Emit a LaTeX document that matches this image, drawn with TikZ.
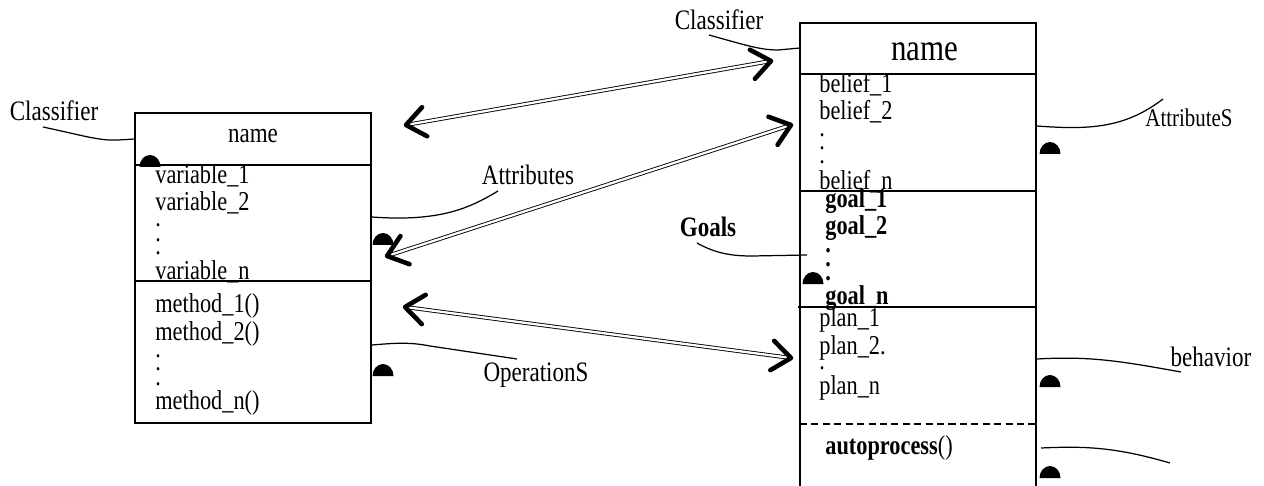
\documentclass[tikz,border=0pt]{standalone}
\usepackage{fontspec}
\setmainfont{Liberation Serif}[FakeStretch=0.82]
\usetikzlibrary{calc}
\tikzstyle{item}=[anchor=base west,inner sep=0pt,font=\fontsize{15.5}{18}\selectfont]
\tikzstyle{goal}=[item,font=\fontsize{15.5}{18}\selectfont\bfseries]
\tikzstyle{dot}=[item,text height=2pt,text depth=0pt]
\tikzstyle{tag}=[inner sep=0pt,font=\fontsize{16}{18}\selectfont]
\tikzstyle{lead}=[draw,line width=0.7pt]
\tikzstyle{shaft}=[draw,double,double distance=1.3pt,line width=0.5pt]
\tikzstyle{barb}=[draw,line width=2.6pt,line cap=round,line join=round]
\tikzstyle{frame}=[draw,line width=0.8pt]

\begin{document}
\begin{tikzpicture}[x=0.02cm, y=-0.02cm]
				\useasboundingbox (0,0) rectangle (1264,486);

				% First we draw the two class boxes
				\path[frame] (135,113) rectangle (371,423);
				\path[frame] (135,165) -- (371,165) (135,281) -- (371,281);
				\path[frame] (800,486) -- (800,23) -- (1036,23) -- (1036,486);
				\path[frame] (800,74) -- (1036,74) (800,191) -- (1036,191) (798,307) -- (1036,307);
				\path[frame, dashed, dash pattern=on 4pt off 2.5pt] (800,424) -- (1036,424);

				% Texts of the left box
				\node[tag] (lname) at (253,136) {name};
				\foreach \y/\txt [count=\i] in {184/variable\_1, 211/variable\_2, 279/variable\_n,
										312/method\_1(), 340/method\_2(), 409/method\_n()}
				\node[item] (l\i) at (155,\y) {\txt};
				\foreach \y [count=\i] in {227,241,255,357,370,385}
				\node[dot] (ld\i) at (155,\y) {.};

				% Texts of the right box
				\node[tag, font=\fontsize{21.5}{24}\selectfont] (rname) at (925,52) {name};
				\foreach \y/\txt [count=\i] in {93/belief\_1, 120/belief\_2, 190/belief\_n,
										326/plan\_1, 354/plan\_2., 394/plan\_n}
				\node[item] (r\i) at (819,\y) {\txt};
				\foreach \y [count=\i] in {137,150,164,369}
				\node[dot] (rd\i) at (819,\y) {.};
				\foreach \y/\txt [count=\i] in {208/goal\_1, 235/goal\_2, 304/goal\_n}
				\node[goal] (g\i) at (825,\y) {\txt};
				\foreach \y [count=\i] in {253,266,280}
				\node[dot, font=\fontsize{15.5}{18}\selectfont\bfseries] (gd\i) at (825,\y) {.};
				\node[item] (auto) at (825,454) {\textbf{autoprocess}()};

				% Labels and their leaders
				\node[tag] (cls1) at (54,111) {Classifier};
				\node[tag] (cls2) at (719,20) {Classifier};
				\node[tag] (attr1) at (528,175) {Attributes};
				\node[tag] (ops) at (536,375) {OperationS};
				\node[tag, font=\fontsize{16}{18}\selectfont\bfseries] (goals) at (708,227) {Goals};
				\node[tag, font=\fontsize{14.5}{18}\selectfont] (attr2) at (1189,118) {AttributeS};
				\node[tag] (behav) at (1211,357) {behavior};

				\coordinate (k1) at (43,127);   \coordinate (e1) at (135,139);
				\coordinate (k2) at (709,35);   \coordinate (e2) at (800,48);
				\coordinate (k3) at (498,191);  \coordinate (e3) at (372,217);
				\coordinate (k4) at (517,359);  \coordinate (e4) at (372,345);
				\coordinate (k5) at (697,243);  \coordinate (e5) at (807,255);
				\coordinate (k6) at (1163,99);  \coordinate (e6) at (1037,126);
				\coordinate (k7) at (1181,372); \coordinate (e7) at (1037,359);
				\coordinate (k8) at (1170,463); \coordinate (e8) at (1041,448);

				\path[lead] (k1) .. controls (85,136) and (100,141) .. (118,140) -- (e1);
				\path[lead] (k2) .. controls (745,45) and (760,50) .. (778,50) -- (e2);
				\path[lead] (e3) .. controls (440,222) and (470,208) .. (k3);
				\path[lead] (e4) .. controls (395,343) and (410,342) .. (430,346) -- (k4);
				\path[lead] (k5) .. controls (715,253) and (730,256) .. (752,256) -- (e5);
				\path[lead] (e6) .. controls (1090,130) and (1125,128) .. (k6);
				\path[lead] (e7) .. controls (1090,356) and (1120,361) .. (k7);
				\path[lead] (e8) .. controls (1085,446) and (1115,447) .. (k8);

				% Half discs
				\foreach \pos in {(150,167), (383,245), (383,376), (1050,154),
										(813,284), (1050,387), (1050,478)}
				\fill \pos ++(-0.21cm,0) arc[start angle=180, end angle=0, x radius=0.21cm, y radius=0.24cm] -- cycle;

				% Double arrows between the boxes
				\coordinate (a1) at (406,125); \coordinate (b1) at (771,61);
				\coordinate (a2) at (387,256); \coordinate (b2) at (791,125);
				\coordinate (a3) at (405,307); \coordinate (b3) at (791,358);
				\foreach \s/\d in {a1/b1, a2/b2, a3/b3}
				\path[shaft] (\s) -- (\d);
				\foreach \s/\d in {a1/b1, b1/a1, a2/b2, b2/a2, a3/b3, b3/a3}
				\path[barb] ($(\s)!0.48cm!38:(\d)$) -- (\s) -- ($(\s)!0.48cm!-38:(\d)$);

			\end{tikzpicture}
\end{document}
